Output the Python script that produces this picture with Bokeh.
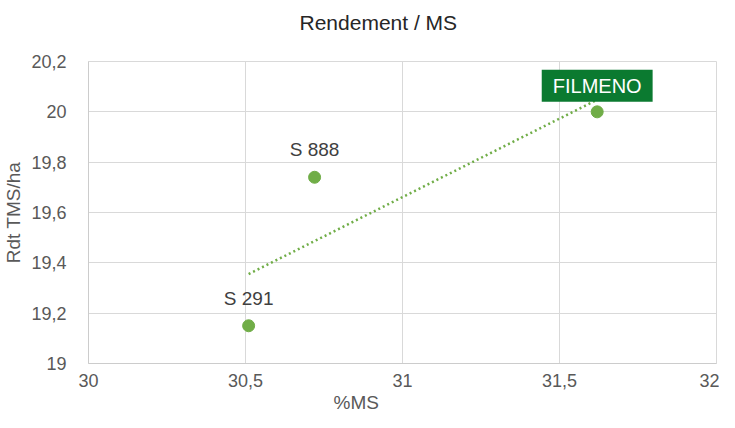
import numpy as np
from bokeh.plotting import figure
from bokeh.models import (ColumnDataSource, LabelSet, Label, FixedTicker,
                          CustomJSTickFormatter, Range1d, Title)
from bokeh.core.properties import value
from bokeh.embed import file_html
from bokeh.resources import INLINE

# data
varieties = ["S 291", "S 888", "FILMENO"]
ms_pct = [30.51, 30.72, 31.62]
rdt_tms = [19.15, 19.74, 20.00]
x_ticks = [30, 30.5, 31, 31.5, 32]
y_ticks = [19, 19.2, 19.4, 19.6, 19.8, 20, 20.2]

FONT = "Liberation Sans"
GREEN = "#70AD47"
GRID = "#d9d9d9"

p = figure(width=719, height=412, output_backend="svg", toolbar_location=None,
           x_range=Range1d(30, 32), y_range=Range1d(19, 20.2),
           min_border_left=60, min_border_right=3, min_border_top=61,
           min_border_bottom=20)
p.outline_line_color = GRID

# spacer between frame and title (pushes the title up)
p.add_layout(Title(text=" ", text_font_size="1px", standoff=25), "above")

p.title.text = "Rendement / MS"
p.title.text_font = FONT
p.title.text_font_size = "21px"
p.title.text_font_style = "normal"
p.title.text_color = "#262626"
p.title.align = "left"
p.title.offset = 211
p.title.standoff = 0

fmt = CustomJSTickFormatter(code="return (Math.round(tick*10)/10).toString().replace('.', ',');")
for ax, ticks in ((p.xaxis[0], x_ticks), (p.yaxis[0], y_ticks)):
    ax.ticker = FixedTicker(ticks=ticks)
    ax.formatter = fmt
    ax.major_tick_line_color = None
    ax.minor_tick_line_color = None
    ax.axis_line_color = "#cccccc"
    ax.major_label_text_font = FONT
    ax.major_label_text_font_size = "18px"
    ax.major_label_text_color = "#595959"
    ax.axis_label_text_font = FONT
    ax.axis_label_text_font_size = "19px"
    ax.axis_label_text_font_style = "normal"
    ax.axis_label_text_color = "#595959"

p.xaxis.major_label_standoff = 4
p.yaxis.major_label_standoff = 16
p.yaxis.axis_label = "Rdt TMS/ha"
p.yaxis.axis_label_standoff = 4

p.xgrid.ticker = FixedTicker(ticks=x_ticks)
p.ygrid.ticker = FixedTicker(ticks=y_ticks)
p.grid.grid_line_color = GRID
p.grid.grid_line_width = 1

# x axis title, placed left of centre as in the original
p.add_layout(Title(text="%MS", align="left", offset=245, standoff=0,
                   text_line_height=0.9,
                   text_font=FONT, text_font_size="19px", text_font_style="normal",
                   text_color="#595959"), "below")

# linear trend line
slope, intercept = np.polyfit(ms_pct, rdt_tms, 1)
tx = [min(ms_pct), max(ms_pct)]
ty = [slope * v + intercept for v in tx]
p.line(tx, ty, line_color=GREEN, line_width=2.5, line_dash="2 3")

src = ColumnDataSource(dict(x=ms_pct, y=rdt_tms, name=varieties))
p.scatter("x", "y", source=src, size=12, fill_color=GREEN, line_color=GREEN)

lab_src = ColumnDataSource(dict(x=ms_pct[:2], y=rdt_tms[:2], name=varieties[:2]))
p.add_layout(LabelSet(x="x", y="y", text="name", source=lab_src, y_offset=21,
                      text_align="center", text_baseline="alphabetic",
                      text_font=value(FONT), text_font_size=value("19px"),
                      text_color="#404040"))

p.add_layout(Label(x=ms_pct[2], y=rdt_tms[2], text=varieties[2], y_offset=26,
                   text_align="center", text_baseline="alphabetic",
                   text_font=FONT, text_font_size="20px", text_color="white",
                   background_fill_color="#0B7A30", padding=(11, 5)))

open("out.html", "w").write(file_html(p, INLINE))
